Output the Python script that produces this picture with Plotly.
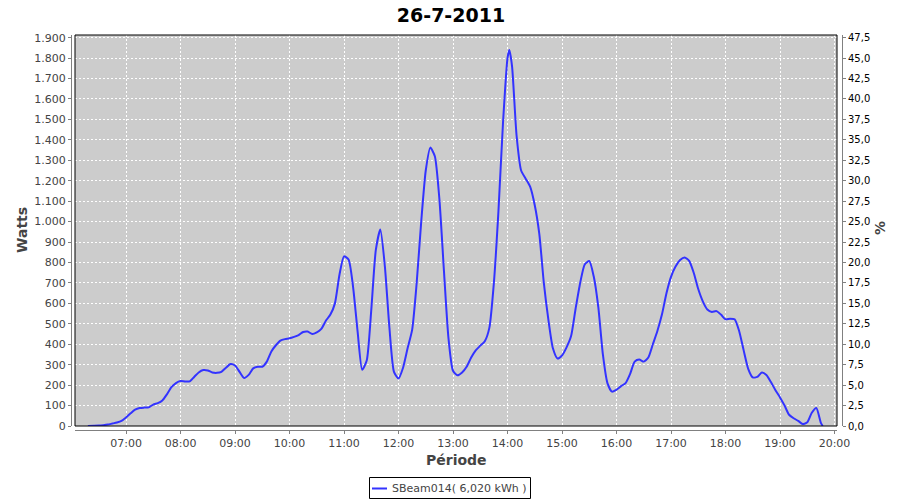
import plotly.graph_objects as go

# ---- data ----
times = [
    "06:18", "06:25", "06:30", "06:35", "06:40", "06:45", "06:50", "06:55",
    "07:00", "07:05", "07:10", "07:15", "07:20", "07:25", "07:30", "07:35",
    "07:40", "07:45", "07:50", "07:55", "08:00", "08:05", "08:10", "08:15",
    "08:20", "08:25", "08:30", "08:35", "08:40", "08:45", "08:50", "08:55",
    "09:00", "09:05", "09:10", "09:15", "09:20", "09:25", "09:30", "09:35",
    "09:40", "09:45", "09:50", "09:55", "10:00", "10:05", "10:10", "10:15",
    "10:20", "10:25", "10:30", "10:35", "10:40", "10:45", "10:50", "10:55",
    "11:00", "11:05", "11:10", "11:15", "11:20", "11:25", "11:30", "11:35",
    "11:40", "11:45", "11:50", "11:55", "12:00", "12:05", "12:10", "12:15",
    "12:20", "12:25", "12:30", "12:35", "12:40", "12:45", "12:50", "12:55",
    "13:00", "13:05", "13:10", "13:15", "13:20", "13:25", "13:30", "13:35",
    "13:40", "13:45", "13:50", "13:55", "14:00", "14:02", "14:05", "14:10",
    "14:15", "14:20", "14:25", "14:30", "14:35", "14:40", "14:45", "14:50",
    "14:55", "15:00", "15:05", "15:10", "15:15", "15:20", "15:25", "15:30",
    "15:35", "15:40", "15:45", "15:50", "15:55", "16:00", "16:05", "16:10",
    "16:15", "16:20", "16:25", "16:30", "16:35", "16:40", "16:45", "16:50",
    "16:55", "17:00", "17:05", "17:10", "17:15", "17:20", "17:25", "17:30",
    "17:35", "17:40", "17:45", "17:50", "17:55", "18:00", "18:05", "18:10",
    "18:15", "18:20", "18:25", "18:30", "18:35", "18:40", "18:45", "18:50",
    "18:55", "19:00", "19:05", "19:10", "19:15", "19:20", "19:25", "19:30",
    "19:35", "19:40", "19:45", "19:47",
]
watts = [
    0, 1, 2, 4, 7, 12, 17, 25,
    42, 62, 80, 88, 90, 91, 105, 112,
    125, 155, 190, 210, 220, 218, 218, 240,
    262, 274, 272, 262, 260, 265, 285, 303,
    296, 265, 235, 250, 282, 290, 290, 315,
    365, 395, 418, 425, 429, 436, 445, 460,
    462, 450, 458, 475, 515, 545, 600, 740,
    830, 815, 680, 460, 275, 320, 567, 860,
    962, 780, 480, 265, 232, 285, 380, 470,
    700, 1000, 1250, 1362, 1320, 1110, 760, 430,
    270, 248, 262, 290, 335, 370, 393, 415,
    480, 700, 1050, 1480, 1800, 1840, 1760, 1420,
    1250, 1210, 1170, 1080, 940, 700, 520, 380,
    330, 345, 385, 440, 575, 700, 790, 807,
    730, 580, 350, 210, 168, 178, 195, 210,
    255, 315, 325, 315, 335, 400, 465, 545,
    650, 730, 780, 812, 825, 808, 750, 670,
    610, 570, 558, 562, 545, 522, 525, 522,
    465, 370, 280, 238, 240, 262, 250, 215,
    175, 140, 100, 55, 38, 25, 10, 18,
    65, 88, 15, 0,
]
series_name = "SBeam014( 6,020 kWh )"
day = "2011-07-26"

watt_ticks = [0, 100, 200, 300, 400, 500, 600, 700, 800, 900, 1000, 1100,
              1200, 1300, 1400, 1500, 1600, 1700, 1800, 1900]
watt_labels = ["0", "100", "200", "300", "400", "500", "600", "700", "800",
               "900", "1.000", "1.100", "1.200", "1.300", "1.400", "1.500",
               "1.600", "1.700", "1.800", "1.900"]
pct_ticks = [0, 2.5, 5, 7.5, 10, 12.5, 15, 17.5, 20, 22.5, 25, 27.5, 30,
             32.5, 35, 37.5, 40, 42.5, 45, 47.5]
pct_labels = ["0,0", "2,5", "5,0", "7,5", "10,0", "12,5", "15,0", "17,5",
              "20,0", "22,5", "25,0", "27,5", "30,0", "32,5", "35,0", "37,5",
              "40,0", "42,5", "45,0", "47,5"]

# ---- layout geometry ----
W, H = 900, 500
ML, MR, MT, MB = 50, 30, 30, 40
PW, PH = W - ML - MR, H - MT - MB


def px(xp):
    return (xp - ML) / PW


def py(yp):
    return (H - MB - yp) / PH


FONT = "DejaVu Sans"
LINE_COLOR = "#3333ff"
GRID = dict(showgrid=True, gridcolor="white", gridwidth=1, griddash="2px,2px")

fig = go.Figure()
fig.add_trace(go.Scatter(
    x=[f"{day} {t}" for t in times], y=watts, mode="lines", name=series_name,
    line=dict(color=LINE_COLOR, width=2, shape="spline", smoothing=0.6),
    showlegend=False,
))
# empty trace so that the right-hand (%) axis is drawn
fig.add_trace(go.Scatter(x=[], y=[], yaxis="y2", mode="lines",
                         showlegend=False, hoverinfo="skip"))

fig.update_layout(
    width=W, height=H,
    margin=dict(l=ML, r=MR, t=MT, b=MB, autoexpand=False),
    paper_bgcolor="white", plot_bgcolor="#cccccc",
    font=dict(family=FONT, size=11, color="#444444"),
    showlegend=False,
    title=dict(text="<b>26-7-2011</b>", x=px(451), xref="paper", xanchor="center",
               y=1 - 15 / H, yref="container", yanchor="middle",
               font=dict(size=19, color="black", family=FONT)),
    xaxis=dict(
        domain=[px(75), px(837)], anchor="free", position=py(430),
        type="date", range=[f"{day} 06:03:50", f"{day} 20:02:45"],
        tick0=f"{day} 07:00", dtick=3600000, tickformat="%H:%M",
        ticks="outside", ticklen=3, tickcolor="#808080",
        showline=True, linecolor="#808080", linewidth=1,
        tickfont=dict(size=11, color="#444444"),
        zeroline=False, automargin=False, **GRID,
    ),
    yaxis=dict(
        domain=[py(426), py(35)], anchor="free", position=px(71),
        range=[0, 1913], tickvals=watt_ticks, ticktext=watt_labels,
        ticks="outside", ticklen=3, tickcolor="#808080",
        showline=True, linecolor="#808080", linewidth=1,
        tickfont=dict(size=11, color="#444444"),
        zeroline=False, automargin=False, **GRID,
    ),
    yaxis2=dict(
        overlaying="y", side="right", anchor="free", position=px(842),
        range=[0, 1913 / 40], tickvals=pct_ticks, ticktext=pct_labels,
        ticks="outside", ticklen=3, tickcolor="#808080",
        showline=True, linecolor="#808080", linewidth=1,
        tickfont=dict(size=10, color="black"),
        showgrid=False, zeroline=False, automargin=False,
    ),
    shapes=[
        # plot frame
        dict(type="rect", xref="x domain", yref="y domain",
             x0=0, x1=1, y0=0, y1=1, line=dict(color="black", width=1),
             fillcolor="rgba(0,0,0,0)", layer="above"),
        # legend box and line sample
        dict(type="rect", xref="paper", yref="paper",
             x0=px(369.5), x1=px(530.5), y0=py(498.5), y1=py(477.5),
             line=dict(color="black", width=1), fillcolor="white"),
        dict(type="line", xref="paper", yref="paper",
             x0=px(372), x1=px(387), y0=py(488.5), y1=py(488.5),
             line=dict(color=LINE_COLOR, width=2)),
    ],
    annotations=[
        dict(text="<b>Watts</b>", x=px(22), y=py(230), xref="paper", yref="paper",
             xanchor="center", yanchor="middle",
             textangle=-90, showarrow=False, font=dict(size=14, color="#444444")),
        dict(text="<b>%</b>", x=px(880), y=py(228), xref="paper", yref="paper",
             xanchor="center", yanchor="middle",
             textangle=-90, showarrow=False, font=dict(size=14, color="#444444")),
        dict(text="<b>Période</b>", x=px(456), y=py(460), xref="paper", yref="paper",
             xanchor="center", yanchor="middle",
             showarrow=False, font=dict(size=14, color="#444444")),
        dict(text=series_name, x=px(390), y=py(488), xref="paper", yref="paper",
             xanchor="left", yanchor="middle",
             showarrow=False, font=dict(size=11, color="#444444")),
    ],
)

fig.write_html("out.html", config={"displayModeBar": False},
               post_script="document.body.style.margin='0';")
